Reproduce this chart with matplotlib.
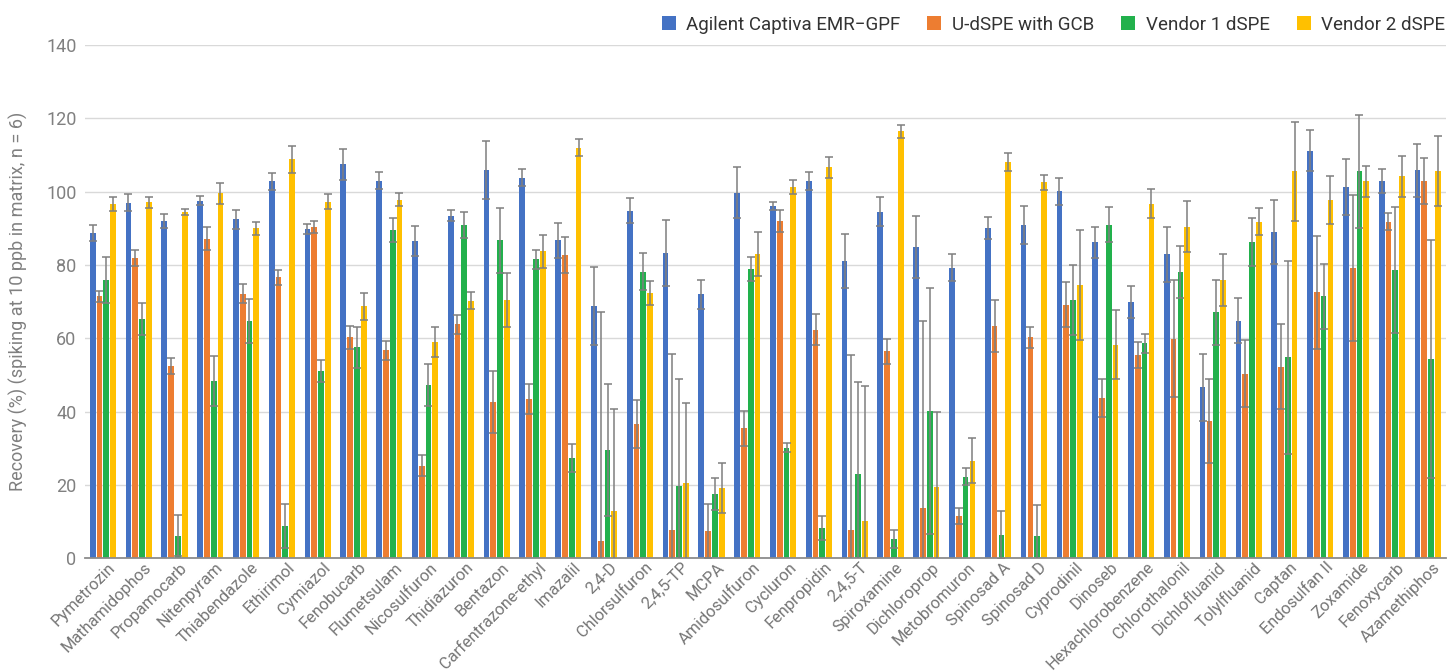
import numpy as np
import matplotlib.pyplot as plt
import matplotlib.transforms as mtransforms

plt.rcParams['font.family'] = ['Roboto', 'DejaVu Sans']

compounds = ['Pymetrozin', 'Mathamidophos', 'Propamocarb', 'Nitenpyram', 'Thiabendazole',
             'Ethirimol', 'Cymiazol', 'Fenobucarb', 'Flumetsulam', 'Nicosulfuron',
             'Thidiazuron', 'Bentazon', 'Carfentrazone-ethyl', 'Imazalil', '2,4-D',
             'Chlorsulfuron', '2,4,5-TP', 'MCPA', 'Amidosulfuron', 'Cycluron',
             'Fenpropidin', '2,4,5-T', 'Spiroxamine', 'Dichloroprop', 'Metobromuron',
             'Spinosad A', 'Spinosad D', 'Cyprodinil', 'Dinoseb', 'Hexachlorobenzene',
             'Chlorothalonil', 'Dichlofluanid', 'Tolylfluanid', 'Captan', 'Endosulfan II',
             'Zoxamide', 'Fenoxycarb', 'Azamethiphos']

methods = ['Agilent Captiva EMR\u2212GPF', 'U-dSPE with GCB', 'Vendor 1 dSPE', 'Vendor 2 dSPE']

emr = [88.7, 97.0, 92.0, 97.5, 92.4, 102.8, 89.8, 107.4, 103.0, 86.5,
       93.4, 105.8, 103.8, 86.7, 68.8, 94.8, 83.2, 72.0, 99.7, 96.0,
       102.9, 81.1, 94.5, 84.9, 79.2, 90.1, 90.9, 100.1, 86.2, 69.9,
       82.9, 46.6, 64.8, 88.9, 111.2, 101.3, 102.9, 105.8]
emr_sd = [2.3, 2.4, 1.8, 1.2, 2.5, 2.4, 1.4, 4.2, 2.3, 4.1,
          1.5, 7.9, 2.3, 4.7, 10.7, 3.4, 9.0, 3.9, 7.0, 1.1,
          2.5, 7.4, 4.0, 8.4, 3.7, 3.1, 5.2, 3.7, 4.2, 4.3,
          7.5, 9.1, 6.2, 8.7, 5.5, 7.6, 3.3, 7.2]

udspe = [71.4, 81.8, 52.4, 87.2, 72.2, 76.6, 90.4, 60.3, 56.7, 25.3,
         63.8, 42.7, 43.4, 82.7, 4.8, 36.7, 7.7, 7.4, 35.4, 92.0,
         62.3, 7.7, 56.4, 13.8, 11.6, 63.3, 60.3, 69.2, 43.8, 55.4,
         59.9, 37.5, 50.3, 52.3, 72.5, 79.2, 91.8, 102.9]
udspe_sd = [1.6, 2.2, 2.1, 3.2, 2.6, 2.0, 1.7, 3.1, 2.6, 2.8,
            2.6, 8.4, 4.1, 5.0, 62.5, 6.6, 48.0, 7.3, 4.7, 3.0,
            4.2, 47.7, 3.5, 51.0, 2.2, 7.1, 2.9, 6.2, 5.2, 3.6,
            16.0, 11.4, 9.1, 11.5, 15.5, 19.9, 2.3, 6.2]

vendor1 = [75.9, 65.3, 6.2, 48.4, 64.7, 8.9, 51.2, 57.5, 89.6, 47.3,
           90.9, 86.7, 81.6, 27.4, 29.5, 78.2, 19.8, 17.5, 78.9, 30.2,
           8.2, 23.0, 5.2, 40.2, 22.3, 6.3, 6.0, 70.5, 91.0, 58.6,
           78.1, 67.1, 86.2, 54.8, 71.4, 105.6, 78.6, 54.4]
vendor1_sd = [6.3, 4.3, 5.7, 6.8, 5.9, 6.0, 3.0, 5.6, 3.3, 5.7,
              3.6, 8.8, 2.6, 3.9, 18.0, 5.1, 29.0, 4.4, 3.3, 1.2,
              3.2, 25.0, 2.4, 33.5, 2.3, 6.6, 8.6, 9.5, 4.7, 2.7,
              7.1, 8.8, 6.6, 26.3, 8.9, 15.4, 17.1, 32.4]

vendor2 = [96.5, 97.1, 94.5, 99.5, 90.0, 108.8, 97.3, 68.7, 97.8, 59.0,
           70.2, 70.5, 83.7, 112.0, 12.9, 72.3, 20.6, 19.2, 83.0, 101.2,
           106.6, 10.3, 116.4, 19.5, 26.6, 108.1, 102.5, 74.4, 58.2, 96.7,
           90.4, 75.8, 91.8, 105.6, 97.7, 102.8, 104.2, 105.6]
vendor2_sd = [1.9, 1.5, 0.8, 2.8, 1.8, 3.6, 2.0, 3.6, 1.8, 4.0,
              2.3, 7.4, 4.4, 2.3, 27.8, 3.3, 21.8, 6.8, 6.0, 1.9,
              2.9, 36.7, 1.8, 20.5, 6.2, 2.5, 2.0, 15.0, 9.4, 4.0,
              7.0, 7.1, 3.7, 13.5, 6.6, 4.3, 5.6, 9.6]

series = [emr, udspe, vendor1, vendor2]
errors = [emr_sd, udspe_sd, vendor1_sd, vendor2_sd]
colors = ['#4472C4', '#ED7D31', '#22B14C', '#FFC000']

fig = plt.figure(figsize=(14.47, 6.71), dpi=100)
ax = fig.add_axes([0.0587, 0.168, 0.9403, 0.765])

x = np.arange(len(compounds))
pitch = 0.19
width = 0.16
for i, (vals, err, col, name) in enumerate(zip(series, errors, colors, methods)):
    pos = x + (i - 1.5) * pitch
    ax.bar(pos, vals, width, color=col, label=name, zorder=2)
    ax.errorbar(pos, vals, yerr=err, fmt='none', ecolor='#7f7f7f', elinewidth=1.1,
                capsize=3.2, capthick=1.1, zorder=3)

ax.set_xlim(-0.5, len(compounds) - 0.5)
ax.set_ylim(0, 140)
ax.set_yticks(range(0, 141, 20))
ax.grid(axis='y', color='#d9d9d9', linewidth=1, zorder=0)
ax.set_axisbelow(True)
for s in ['top', 'right', 'left']:
    ax.spines[s].set_visible(False)
ax.spines['bottom'].set_color('#8c8c8c')
ax.spines['bottom'].set_linewidth(1.3)

ax.set_xticks(x)
ax.set_xticklabels(compounds, rotation=45, ha='right', va='top', rotation_mode='anchor',
                   fontsize=11.8, color='#757575')
ax.tick_params(axis='x', length=0, pad=1)
shift = mtransforms.ScaledTranslation(0.05, 0.0, fig.dpi_scale_trans)
for lab in ax.get_xticklabels():
    lab.set_transform(lab.get_transform() + shift)

ax.tick_params(axis='y', length=0, labelsize=13, labelcolor='#808080', pad=6)
ax.set_ylabel('Recovery (%) (spiking at 10 ppb in matrix, n = 6)', fontsize=13,
              color='#808080', labelpad=13)

fig.legend(loc='center right', bbox_to_anchor=(1445 / 1447, 1 - 24.5 / 671), ncol=4,
           frameon=False, fontsize=13.5, handlelength=0.75, handleheight=0.8,
           handletextpad=0.55, columnspacing=1.45, borderpad=0, borderaxespad=0,
           labelcolor='#333333')

fig.savefig('out.png', dpi=100)
